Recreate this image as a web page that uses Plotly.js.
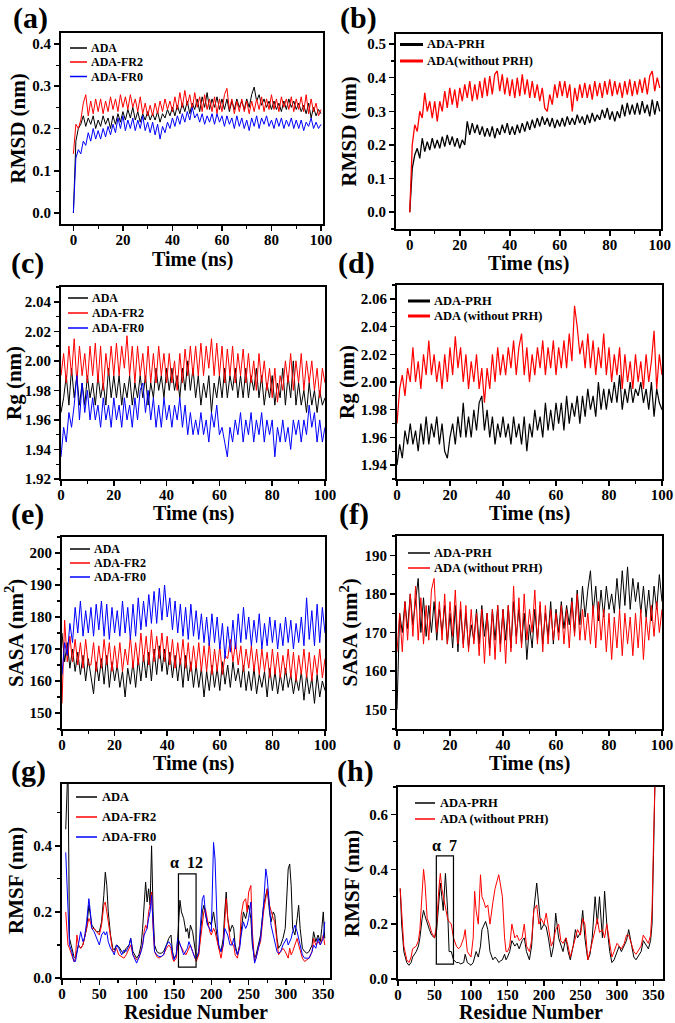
<!DOCTYPE html>
<html><head><meta charset="utf-8">
<script src="https://cdn.plot.ly/plotly-3.0.1.min.js"></script>
<style>html,body{margin:0;padding:0;background:#fff}#chart{width:675px;height:1023px}</style>
</head><body><div id="chart"></div>
<script>
// ---------- DATA ----------
// time grid (ns), sampled every 1 ns
const timeNs = Array.from({length: 101}, (_, i) => i);

// (a) RMSD (nm)
const rmsdA_ADA = [0,
 0.17,0.2,0.21,0.23,0.205,0.225,0.21,0.23,0.2,0.22,
 0.205,0.23,0.21,0.225,0.2,0.23,0.21,0.235,0.215,0.24,
 0.22,0.245,0.225,0.25,0.22,0.24,0.215,0.235,0.22,0.24,
 0.22,0.235,0.22,0.24,0.215,0.235,0.225,0.245,0.23,0.25,
 0.23,0.255,0.235,0.26,0.24,0.265,0.235,0.26,0.245,0.27,
 0.24,0.275,0.25,0.285,0.245,0.27,0.25,0.275,0.245,0.27,
 0.245,0.27,0.24,0.265,0.245,0.27,0.25,0.265,0.245,0.27,
 0.25,0.28,0.298,0.265,0.28,0.255,0.27,0.25,0.265,0.245,
 0.265,0.245,0.26,0.24,0.265,0.245,0.27,0.25,0.265,0.245,
 0.26,0.24,0.255,0.235,0.26,0.225,0.25,0.23,0.245,0.235];
const rmsdA_FR2 = [0.14,
 0.21,0.2,0.22,0.26,0.28,0.23,0.265,0.235,0.27,0.24,
 0.27,0.235,0.265,0.24,0.275,0.245,0.27,0.24,0.28,0.25,
 0.275,0.245,0.28,0.25,0.27,0.24,0.275,0.235,0.26,0.23,
 0.255,0.23,0.26,0.235,0.265,0.24,0.27,0.245,0.265,0.24,
 0.275,0.245,0.285,0.25,0.29,0.255,0.28,0.245,0.285,0.25,
 0.275,0.24,0.28,0.245,0.27,0.24,0.275,0.235,0.27,0.24,
 0.28,0.295,0.245,0.27,0.235,0.265,0.24,0.27,0.24,0.265,
 0.235,0.265,0.24,0.27,0.245,0.275,0.24,0.27,0.245,0.28,
 0.245,0.27,0.24,0.275,0.25,0.27,0.245,0.275,0.24,0.27,
 0.245,0.275,0.24,0.28,0.235,0.27,0.24,0.26,0.23,0.245];
const rmsdA_FR0 = [0,
 0.13,0.15,0.14,0.17,0.16,0.19,0.17,0.2,0.175,0.195,
 0.175,0.2,0.18,0.205,0.185,0.21,0.19,0.225,0.2,0.23,
 0.195,0.22,0.2,0.225,0.195,0.22,0.2,0.23,0.195,0.215,
 0.19,0.215,0.185,0.21,0.175,0.205,0.19,0.215,0.2,0.225,
 0.205,0.23,0.21,0.235,0.215,0.24,0.22,0.25,0.225,0.235,
 0.215,0.235,0.21,0.23,0.215,0.235,0.21,0.235,0.215,0.23,
 0.205,0.23,0.21,0.225,0.2,0.23,0.205,0.225,0.2,0.22,
 0.195,0.225,0.205,0.23,0.2,0.225,0.21,0.23,0.205,0.22,
 0.2,0.225,0.205,0.225,0.2,0.22,0.205,0.225,0.2,0.22,
 0.2,0.22,0.195,0.215,0.205,0.225,0.2,0.215,0.2,0.21];

// (b) RMSD (nm)
const rmsdB_PRH = [0,
 0.13,0.17,0.19,0.16,0.22,0.18,0.21,0.185,0.22,0.19,
 0.215,0.19,0.225,0.195,0.23,0.2,0.225,0.195,0.22,0.19,
 0.215,0.2,0.27,0.23,0.265,0.235,0.26,0.23,0.255,0.225,
 0.25,0.225,0.255,0.22,0.25,0.23,0.26,0.235,0.265,0.23,
 0.255,0.23,0.26,0.235,0.265,0.24,0.27,0.245,0.275,0.25,
 0.28,0.255,0.285,0.26,0.28,0.255,0.28,0.25,0.275,0.255,
 0.28,0.255,0.285,0.26,0.28,0.26,0.29,0.265,0.285,0.26,
 0.29,0.265,0.295,0.27,0.29,0.275,0.305,0.28,0.31,0.275,
 0.3,0.27,0.3,0.28,0.32,0.285,0.325,0.29,0.32,0.29,
 0.325,0.29,0.33,0.295,0.32,0.285,0.335,0.29,0.33,0.3];
const rmsdB_noPRH = [0,
 0.2,0.26,0.24,0.3,0.28,0.355,0.3,0.33,0.28,0.33,
 0.27,0.33,0.3,0.36,0.31,0.37,0.32,0.365,0.31,0.37,
 0.33,0.38,0.34,0.39,0.33,0.38,0.335,0.39,0.34,0.4,
 0.345,0.405,0.35,0.41,0.42,0.36,0.41,0.35,0.4,0.345,
 0.395,0.34,0.4,0.345,0.41,0.35,0.395,0.34,0.39,0.34,
 0.38,0.33,0.37,0.31,0.3,0.35,0.32,0.38,0.34,0.39,
 0.345,0.39,0.34,0.38,0.3,0.37,0.33,0.38,0.34,0.385,
 0.34,0.38,0.335,0.39,0.345,0.385,0.34,0.39,0.35,0.395,
 0.345,0.39,0.35,0.385,0.34,0.39,0.35,0.395,0.345,0.39,
 0.35,0.395,0.355,0.4,0.35,0.405,0.42,0.36,0.4,0.37];

// (c) Rg (nm)
const rgC_ADA = [1.965,
 1.975,1.99,1.97,1.995,1.975,1.99,1.97,1.985,1.97,1.99,
 1.975,1.985,1.97,1.99,1.975,1.985,1.97,1.995,1.975,1.99,
 1.975,1.99,1.97,1.985,1.975,1.99,1.97,1.985,1.975,1.99,
 1.975,1.99,1.97,1.985,1.975,1.995,1.98,1.99,1.975,1.995,
 1.98,1.995,1.98,1.99,1.975,1.995,1.98,2.0,1.98,1.995,
 1.975,1.99,1.97,1.985,1.975,1.99,1.965,1.985,1.975,1.99,
 1.975,1.995,1.975,1.99,1.98,1.995,1.975,1.99,1.975,1.995,
 1.975,1.99,1.98,1.995,1.975,1.99,1.97,1.985,1.975,1.99,
 1.97,1.985,1.975,1.995,1.97,1.99,1.975,2.0,1.97,1.985,
 1.97,1.98,1.965,1.985,1.97,1.98,1.965,1.98,1.97,1.975];
const rgC_FR2 = [1.99,
 2.005,1.985,2.01,1.99,2.015,1.985,2.01,1.99,2.005,1.985,
 2.01,1.99,2.012,1.985,2.01,1.98,2.005,1.99,2.01,1.99,
 2.012,1.99,2.01,1.995,2.017,1.99,2.01,1.985,2.01,1.99,
 2.005,1.985,2.01,1.985,2.005,1.985,2.01,1.99,2.005,1.985,
 2.005,1.985,2.0,1.98,2.005,1.985,2.008,1.99,2.01,1.99,
 2.01,1.99,2.012,1.99,2.01,1.995,2.015,1.99,2.012,1.99,
 2.01,1.985,2.008,1.99,2.01,1.985,2.005,1.99,2.008,1.985,
 2.005,1.985,2.0,1.98,2.005,1.985,2.0,1.98,1.995,1.975,
 1.995,1.972,1.99,1.98,2.0,1.985,2.005,1.98,2.0,1.985,
 2.005,1.98,2.0,1.985,2.0,1.98,1.995,1.975,1.995,1.985];
const rgC_FR0 = [1.935,
 1.955,1.945,1.965,1.955,1.97,1.99,1.96,1.985,1.965,1.98,
 1.96,1.975,1.96,1.97,1.955,1.975,1.96,1.97,1.955,1.975,
 1.96,1.97,1.955,1.975,1.96,1.97,1.955,1.975,1.96,1.98,
 1.985,1.965,1.98,1.96,1.975,1.955,1.97,1.955,1.975,1.96,
 1.97,1.955,1.97,1.96,1.975,1.955,1.97,1.95,1.965,1.95,
 1.96,1.95,1.965,1.95,1.96,1.945,1.965,1.955,1.97,1.95,
 1.955,1.945,1.935,1.955,1.945,1.96,1.95,1.965,1.945,1.96,
 1.95,1.965,1.945,1.96,1.95,1.965,1.945,1.96,1.95,1.96,
 1.935,1.955,1.945,1.96,1.945,1.955,1.94,1.96,1.95,1.96,
 1.945,1.96,1.95,1.97,1.955,1.965,1.945,1.96,1.945,1.955];

// (d) Rg (nm)
const rgD_PRH = [1.94,
 1.955,1.945,1.965,1.955,1.97,1.955,1.965,1.95,1.97,1.955,
 1.975,1.955,1.97,1.96,1.975,1.955,1.97,1.95,1.945,1.96,
 1.97,1.955,1.975,1.96,1.985,1.96,1.975,1.96,1.98,1.965,
 1.985,1.99,1.965,1.98,1.96,1.975,1.955,1.97,1.96,1.975,
 1.96,1.97,1.955,1.975,1.96,1.97,1.955,1.975,1.95,1.97,
 1.96,1.98,1.965,1.975,1.96,1.985,1.965,1.98,1.965,1.985,
 1.97,1.985,1.965,1.99,1.97,1.985,1.975,1.99,1.97,1.99,
 1.975,1.995,1.98,1.99,1.975,2.0,1.98,1.995,1.98,1.995,
 1.985,2.0,1.985,2.005,1.98,1.995,1.985,2.0,1.985,1.995,
 1.99,2.0,1.985,1.995,1.98,2.0,1.975,1.995,1.985,1.98];
const rgD_noPRH = [1.97,
 1.995,2.005,1.99,2.01,2.0,2.025,2.0,2.015,1.995,2.02,
 2.005,2.03,2.005,2.02,2.0,2.015,1.995,2.02,2.0,2.025,
 2.005,2.033,2.01,2.025,2.0,2.02,1.995,2.015,2.0,2.02,
 1.995,2.01,1.985,2.01,1.995,2.02,2.0,2.025,2.005,2.02,
 2.005,2.025,2.01,2.03,2.005,2.025,2.035,2.005,2.025,2.0,
 2.02,2.005,2.025,2.01,2.03,2.005,2.025,2.01,2.03,2.005,
 2.025,2.01,2.03,2.01,2.035,2.015,2.055,2.04,2.02,2.03,
 2.01,2.035,2.01,2.03,2.005,2.025,2.01,2.035,2.005,2.025,
 2.0,2.02,2.005,2.025,1.995,2.02,2.0,2.015,1.995,2.02,
 2.0,2.015,1.995,2.02,2.0,2.015,2.037,1.995,2.02,2.005];

// (e) SASA (nm^2)
const sasaE_ADA = [175,
 166,172,164,170,163,169,162,168,160,167,
 161,156,166,160,167,159,168,158,166,160,
 165,158,163,155,164,159,166,158,167,160,
 168,161,169,160,170,162,171,163,170,162,
 169,161,168,160,167,158,168,160,166,158,
 165,158,164,155,163,157,165,158,164,157,
 166,159,165,158,166,160,164,158,165,157,
 163,157,164,156,162,158,163,155,164,157,
 163,156,162,157,164,158,162,156,161,157,
 163,154,162,156,161,153,162,155,160,157];
const sasaE_FR2 = [153,
 179,166,174,166,173,165,172,164,173,165,
 165,172,163,171,164,173,165,172,163,171,
 164,172,163,170,165,174,164,172,165,175,
 166,174,165,176,166,174,167,175,166,174,
 165,173,164,172,165,173,164,172,163,171,
 164,172,163,171,163,172,162,170,163,171,
 162,168,167,173,166,172,165,171,163,170,
 164,171,163,170,162,170,163,169,161,170,
 162,169,161,168,162,170,161,169,160,168,
 162,170,161,169,160,168,162,170,161,167];
const sasaE_FR0 = [162,
 172,168,178,172,183,175,185,174,182,175,
 183,174,184,176,185,174,184,173,183,175,
 182,174,185,175,183,173,184,174,186,176,
 185,177,187,178,188,178,189,179,190,180,
 186,176,185,175,184,174,183,173,184,174,
 182,173,181,172,180,171,181,172,180,170,
 178,167,177,169,179,170,181,172,183,173,
 180,171,179,172,181,170,178,171,180,172,
 179,170,178,171,180,172,179,170,178,172,
 180,171,186,173,182,171,184,172,183,175];

// (f) SASA (nm^2)
const sasaF_PRH = [150,
 175,170,178,171,180,172,178,184,170,179,
 169,177,170,178,168,176,170,177,167,175,
 166,177,165,176,167,175,166,172,168,176,
 167,177,169,175,166,176,168,177,167,176,
 168,177,166,178,169,176,167,175,163,172,
 166,176,168,177,167,175,169,178,167,176,
 170,178,171,177,172,179,170,181,172,182,
 174,181,186,175,182,173,181,174,182,176,
 180,175,184,176,186,177,187,176,184,178,
 183,175,182,174,181,173,182,176,185,178];
const sasaF_noPRH = [165,
 175,165,178,168,180,169,182,168,179,167,
 177,168,181,184,170,178,168,180,167,178,
 169,181,167,178,166,177,165,176,167,175,
 164,176,162,175,164,176,163,177,165,176,
 162,177,165,182,167,179,166,180,168,176,
 170,181,167,178,165,177,167,176,168,175,
 168,177,167,176,166,178,169,180,168,176,
 168,175,167,177,166,178,168,176,165,175,
 163,174,166,176,164,175,167,174,164,175,
 166,176,163,174,168,177,169,178,170,176];

// (g) RMSF (nm) vs residue
const residueG = [5,8,10,13,16,18,20,22,25,28,
 30,33,36,38,40,43,46,50,53,56,
 58,60,62,65,68,70,73,76,80,83,
 86,90,92,95,100,103,106,108,110,112,
 114,116,118,120,122,124,127,130,133,136,
 140,143,146,148,150,153,155,157,158,160,
 163,166,168,170,172,175,178,180,183,186,
 188,190,192,195,198,200,203,205,208,210,
 213,216,218,220,222,225,228,230,232,235,
 238,240,243,246,248,250,253,255,258,260,
 263,266,270,273,275,278,280,283,285,288,
 290,293,296,299,301,303,305,307,309,312,
 315,317,319,322,325,328,331,335,337,340,
 343,346,348,350,352];
const rmsfG_ADA = [0.45,0.65,0.12,0.09,0.065,0.06,0.08,0.1,0.09,0.1,
 0.12,0.15,0.22,0.18,0.16,0.15,0.14,0.14,0.17,0.25,
 0.32,0.28,0.2,0.13,0.09,0.085,0.1,0.095,0.08,0.075,
 0.09,0.1,0.12,0.08,0.06,0.07,0.1,0.15,0.22,0.29,
 0.23,0.27,0.22,0.4,0.2,0.1,0.08,0.075,0.075,0.08,
 0.1,0.12,0.13,0.08,0.06,0.07,0.12,0.2,0.235,0.2,
 0.18,0.14,0.15,0.12,0.16,0.14,0.08,0.06,0.07,0.15,
 0.2,0.22,0.19,0.16,0.17,0.16,0.2,0.17,0.12,0.09,
 0.08,0.12,0.2,0.26,0.18,0.14,0.16,0.15,0.1,0.07,
 0.1,0.15,0.2,0.18,0.2,0.22,0.18,0.1,0.06,0.07,
 0.1,0.13,0.22,0.25,0.27,0.2,0.17,0.2,0.19,0.12,
 0.09,0.1,0.12,0.15,0.25,0.33,0.345,0.28,0.15,0.13,
 0.18,0.22,0.15,0.09,0.08,0.075,0.08,0.1,0.14,0.11,
 0.13,0.11,0.15,0.2,0.12];
const rmsfG_FR2 = [0.2,0.1,0.09,0.07,0.05,0.06,0.13,0.1,0.09,0.1,
 0.12,0.15,0.18,0.17,0.15,0.15,0.14,0.13,0.16,0.22,
 0.23,0.2,0.17,0.12,0.08,0.08,0.09,0.07,0.065,0.06,
 0.07,0.09,0.1,0.07,0.055,0.06,0.08,0.1,0.14,0.16,
 0.15,0.2,0.22,0.26,0.15,0.08,0.065,0.06,0.065,0.07,
 0.09,0.1,0.09,0.06,0.05,0.06,0.1,0.11,0.1,0.09,
 0.08,0.07,0.08,0.09,0.1,0.08,0.06,0.05,0.07,0.13,
 0.18,0.2,0.21,0.17,0.14,0.13,0.15,0.14,0.11,0.08,
 0.06,0.1,0.18,0.24,0.18,0.12,0.1,0.1,0.07,0.06,
 0.1,0.19,0.23,0.24,0.2,0.26,0.28,0.14,0.05,0.06,
 0.09,0.11,0.2,0.25,0.27,0.22,0.2,0.18,0.17,0.1,
 0.07,0.08,0.09,0.08,0.07,0.06,0.09,0.07,0.08,0.1,
 0.12,0.1,0.08,0.06,0.05,0.055,0.06,0.08,0.12,0.1,
 0.11,0.1,0.12,0.13,0.1];
const rmsfG_FR0 = [0.38,0.2,0.1,0.08,0.05,0.05,0.08,0.1,0.14,0.11,
 0.12,0.17,0.24,0.2,0.15,0.14,0.12,0.1,0.13,0.14,
 0.13,0.14,0.11,0.09,0.08,0.07,0.1,0.09,0.07,0.085,
 0.08,0.1,0.12,0.07,0.045,0.06,0.08,0.1,0.13,0.14,
 0.15,0.18,0.2,0.25,0.15,0.08,0.07,0.065,0.065,0.07,
 0.1,0.11,0.1,0.07,0.055,0.07,0.12,0.11,0.1,0.09,
 0.07,0.08,0.09,0.11,0.1,0.08,0.06,0.06,0.08,0.18,
 0.24,0.25,0.2,0.16,0.15,0.14,0.41,0.36,0.15,0.1,
 0.08,0.1,0.15,0.14,0.13,0.1,0.1,0.12,0.09,0.07,
 0.09,0.13,0.17,0.15,0.16,0.18,0.23,0.11,0.045,0.06,
 0.09,0.12,0.22,0.33,0.3,0.2,0.16,0.13,0.11,0.08,
 0.075,0.08,0.1,0.11,0.12,0.1,0.11,0.12,0.14,0.16,
 0.14,0.12,0.1,0.07,0.06,0.06,0.06,0.08,0.1,0.09,
 0.12,0.1,0.11,0.12,0.17];

// (h) RMSF (nm) vs residue
const residueH = [3,5,8,12,15,18,20,25,28,30,
 33,35,37,40,43,46,50,53,56,58,
 60,62,65,68,70,73,76,80,83,86,
 90,92,95,100,103,105,107,110,113,115,
 118,120,123,126,130,133,136,138,140,143,
 146,148,150,153,156,160,163,166,170,173,
 176,180,183,186,190,193,196,200,203,206,
 210,213,216,220,223,226,230,233,236,240,
 243,246,250,253,256,260,263,266,270,273,
 276,280,283,286,290,293,296,300,303,306,
 310,313,316,320,323,326,330,333,336,340,
 343,346,348,350,352];
const rmsfH_PRH = [0.33,0.2,0.1,0.06,0.05,0.06,0.08,0.1,0.12,0.15,
 0.22,0.25,0.23,0.2,0.18,0.16,0.15,0.18,0.3,0.35,
 0.3,0.25,0.385,0.25,0.1,0.1,0.07,0.06,0.06,0.055,
 0.06,0.09,0.06,0.05,0.06,0.08,0.1,0.08,0.12,0.18,
 0.2,0.21,0.18,0.1,0.07,0.08,0.07,0.06,0.065,0.07,
 0.09,0.07,0.08,0.1,0.14,0.12,0.13,0.11,0.14,0.15,
 0.1,0.07,0.12,0.25,0.35,0.25,0.18,0.2,0.19,0.15,
 0.08,0.12,0.24,0.15,0.12,0.1,0.15,0.1,0.07,0.12,
 0.18,0.15,0.17,0.25,0.15,0.07,0.09,0.15,0.3,0.2,
 0.3,0.15,0.32,0.2,0.1,0.06,0.07,0.1,0.12,0.1,
 0.12,0.14,0.18,0.12,0.08,0.07,0.09,0.1,0.14,0.12,
 0.11,0.14,0.2,0.45,0.72];
const rmsfH_noPRH = [0.33,0.25,0.12,0.07,0.06,0.08,0.11,0.12,0.14,0.18,
 0.3,0.4,0.35,0.22,0.2,0.17,0.15,0.2,0.33,0.385,
 0.33,0.3,0.25,0.22,0.21,0.2,0.15,0.12,0.11,0.12,
 0.15,0.18,0.1,0.08,0.15,0.32,0.25,0.2,0.38,0.3,
 0.28,0.26,0.27,0.2,0.28,0.33,0.36,0.38,0.35,0.3,
 0.15,0.1,0.1,0.12,0.2,0.15,0.16,0.14,0.15,0.2,
 0.12,0.1,0.14,0.25,0.27,0.2,0.22,0.2,0.24,0.18,
 0.12,0.14,0.18,0.2,0.14,0.13,0.15,0.12,0.08,0.12,
 0.15,0.18,0.16,0.22,0.2,0.07,0.1,0.13,0.18,0.22,
 0.17,0.18,0.15,0.2,0.12,0.08,0.1,0.13,0.12,0.11,
 0.13,0.16,0.16,0.12,0.1,0.09,0.11,0.12,0.16,0.14,
 0.13,0.16,0.25,0.5,0.72];

// labels
const panelLabels = ['(a)','(b)','(c)','(d)','(e)','(f)','(g)','(h)'];
const legendA = ['ADA','ADA-FR2','ADA-FR0'];
const legendB = ['ADA-PRH','ADA(without PRH)'];
const legendD = ['ADA-PRH','ADA (without PRH)'];
const xTitles = ['Time (ns)','Time (ns)','Time (ns)','Time (ns)','Time (ns)','Time (ns)','Residue Number','Residue Number'];
const yTitles = ['RMSD (nm)','RMSD (nm)','Rg (nm)','Rg (nm)','SASA (nm<sup>2</sup>)','SASA (nm<sup>2</sup>)','RMSF (nm)','RMSF (nm)'];
const alphaLabels = ['α  12','α  7'];

// ---------- STYLE / LAYOUT ----------
const W = 675, H = 1023;
const FONT = 'Liberation Serif, Times New Roman, serif';
const BLACK = '#000000', RED = '#ff0000', BLUE = '#0000ff';
const px = x => x / W;
const py = y => 1 - y / H;

function line(x, y, color, ax, w) {
  return {x, y, type: 'scatter', mode: 'lines', showlegend: false, hoverinfo: 'skip',
          line: {color, width: w || 1}, xaxis: 'x' + ax, yaxis: 'y' + ax};
}
const tr = [];
tr.push(line(timeNs, rmsdA_ADA, BLACK, ''), line(timeNs, rmsdA_FR2, RED, ''), line(timeNs, rmsdA_FR0, BLUE, ''));
tr.push(line(timeNs, rmsdB_PRH, BLACK, '2', 1.3), line(timeNs, rmsdB_noPRH, RED, '2', 1.3));
tr.push(line(timeNs, rgC_ADA, BLACK, '3'), line(timeNs, rgC_FR2, RED, '3'), line(timeNs, rgC_FR0, BLUE, '3'));
tr.push(line(timeNs, rgD_PRH, BLACK, '4', 1.2), line(timeNs, rgD_noPRH, RED, '4', 1.2));
tr.push(line(timeNs, sasaE_ADA, BLACK, '5'), line(timeNs, sasaE_FR2, RED, '5'), line(timeNs, sasaE_FR0, BLUE, '5'));
tr.push(line(timeNs, sasaF_PRH, BLACK, '6'), line(timeNs, sasaF_noPRH, RED, '6'));
tr.push(line(residueG, rmsfG_ADA, BLACK, '7'), line(residueG, rmsfG_FR2, RED, '7'), line(residueG, rmsfG_FR0, BLUE, '7'));
tr.push(line(residueH, rmsfH_PRH, BLACK, '8'), line(residueH, rmsfH_noPRH, RED, '8'));

function axis(domain, range, dtick, minor, fmt, isX) {
  const a = {domain, range, autorange: false, showline: true, mirror: true, linecolor: BLACK, linewidth: 2,
    ticks: 'outside', ticklen: 5, tickwidth: 1.5, tickcolor: BLACK, dtick, tick0: 0,
    showgrid: false, zeroline: false, fixedrange: true, automargin: false,
    tickfont: {family: FONT, size: 15, color: BLACK, weight: 'bold'},
    minor: {ticks: 'outside', ticklen: 3, tickwidth: 1.2, dtick: minor, tickcolor: BLACK, showgrid: false}};
  if (isX) a.ticklabelstandoff = -4;
  if (fmt) a.tickformat = fmt;
  return a;
}

// plot frames in pixels: [left, right, top, bottom]
const frames = [[61,323,33,224],[396,661,34,229],[61,325,287,479],[397,662,285,479],
                [62,325,537,729],[397,662,536,729],[62,330,784,978],[398,663,787,979]];
const xRanges = [[-5,100.8],[-5.5,100.5],[0,100],[0,100],[0,100],[0,100],[0,359],[0,363]];
const yRanges = [[-0.026,0.426],[-0.05,0.53],[1.92,2.05],[1.93,2.07],[145,205],[145,195],[0,0.587],[0,0.7]];
const xTick = [[20,10],[20,10],[20,10],[20,10],[20,10],[20,10],[50,25],[50,25]];
const yTick = [[0.1,0.05,'.1f'],[0.1,0.05,'.1f'],[0.02,0.01,'.2f'],[0.02,0.01,'.2f'],[10,5,null],[10,5,null],[0.2,0.1,'.1f'],[0.2,0.1,'.1f']];
const xTitleY = [259,263,513,513,763,763,1012,1012];
const yTitleX = [17,348,14,347,14,349,16,352];

const layout = {
  width: W, height: H, margin: {l: 0, r: 0, t: 0, b: 0},
  paper_bgcolor: '#fff', plot_bgcolor: '#fff', showlegend: false, hovermode: false,
  font: {family: FONT, color: BLACK},
  annotations: [], shapes: []
};
frames.forEach((f, i) => {
  const s = i === 0 ? '' : String(i + 1);
  const xa = axis([px(f[0]), px(f[1])], xRanges[i], xTick[i][0], xTick[i][1], null, true);
  const ya = axis([py(f[3]), py(f[2])], yRanges[i], yTick[i][0], yTick[i][1], yTick[i][2], false);
  xa.anchor = 'y' + s; ya.anchor = 'x' + s;
  layout['xaxis' + s] = xa; layout['yaxis' + s] = ya;
  layout.annotations.push({text: xTitles[i], xref: 'paper', yref: 'paper',
    x: px((f[0] + f[1]) / 2), y: py(xTitleY[i]), xanchor: 'center', yanchor: 'middle', showarrow: false,
    font: {family: FONT, size: 20, color: BLACK, weight: 'bold'}});
  layout.annotations.push({text: yTitles[i], xref: 'paper', yref: 'paper', textangle: -90,
    x: px(yTitleX[i]), y: py((f[2] + f[3]) / 2), xanchor: 'center', yanchor: 'middle', showarrow: false,
    font: {family: FONT, size: 21, color: BLACK, weight: 'bold'}});
});

// panel letters
const letterPos = [[30,18],[358,18],[27,263],[356,263],[27,514],[354,514],[28,771],[355,771]];
panelLabels.forEach((t, i) => layout.annotations.push({text: t, xref: 'paper', yref: 'paper',
  x: px(letterPos[i][0]), y: py(letterPos[i][1]), xanchor: 'center', yanchor: 'middle', showarrow: false,
  font: {family: FONT, size: 30, color: BLACK, weight: 'bold'}}));

// legends drawn as line samples + text
function legend(names, colors, lx0, lx1, tx, rows, size, lw) {
  names.forEach((n, i) => {
    layout.shapes.push({type: 'line', xref: 'paper', yref: 'paper', x0: px(lx0), x1: px(lx1),
      y0: py(rows[i]), y1: py(rows[i]), line: {color: colors[i], width: lw}});
    layout.annotations.push({text: n, xref: 'paper', yref: 'paper', x: px(tx), y: py(rows[i]),
      xanchor: 'left', yanchor: 'middle', showarrow: false,
      font: {family: FONT, size, color: BLACK, weight: 'bold'}});
  });
}
const c3 = [BLACK, RED, BLUE], c2 = [BLACK, RED];
legend(legendA, c3, 70, 87, 89, [48, 62, 76.5], 12, 1.5);
legend(legendB, c2, 400, 423, 425, [44.5, 61], 12.5, 3);
legend(legendA, c3, 68, 88, 90, [298, 313, 328], 12, 1.5);
legend(legendD, c2, 408, 430, 432, [301, 316], 12.5, 3);
legend(legendA, c3, 70, 90, 92, [549, 563, 577], 12, 1.5);
legend(legendD, c2, 408, 430, 432, [553, 568], 12.5, 1.5);
legend(legendA, c3, 76, 97, 100, [797, 817, 837], 12.5, 1.5);
legend(legendD, c2, 415, 435, 438, [803, 819], 12.5, 1.5);

// helix boxes
layout.shapes.push({type: 'rect', xref: 'x7', yref: 'y7', x0: 156, x1: 179.6, y0: 0.033, y1: 0.315,
  line: {color: BLACK, width: 1.2}, fillcolor: 'rgba(0,0,0,0)'});
layout.shapes.push({type: 'rect', xref: 'x8', yref: 'y8', x0: 52.5, x1: 76, y0: 0.054, y1: 0.449,
  line: {color: BLACK, width: 1.2}, fillcolor: 'rgba(0,0,0,0)'});
layout.annotations.push({text: alphaLabels[0], xref: 'x7', yref: 'y7', x: 167, y: 0.35, showarrow: false,
  xanchor: 'center', yanchor: 'middle', font: {family: FONT, size: 16, color: BLACK, weight: 'bold'}});
layout.annotations.push({text: alphaLabels[1], xref: 'x8', yref: 'y8', x: 64, y: 0.485, showarrow: false,
  xanchor: 'center', yanchor: 'middle', font: {family: FONT, size: 16, color: BLACK, weight: 'bold'}});

Plotly.newPlot('chart', tr, layout, {staticPlot: true, displayModeBar: false});
</script>
</body></html>
